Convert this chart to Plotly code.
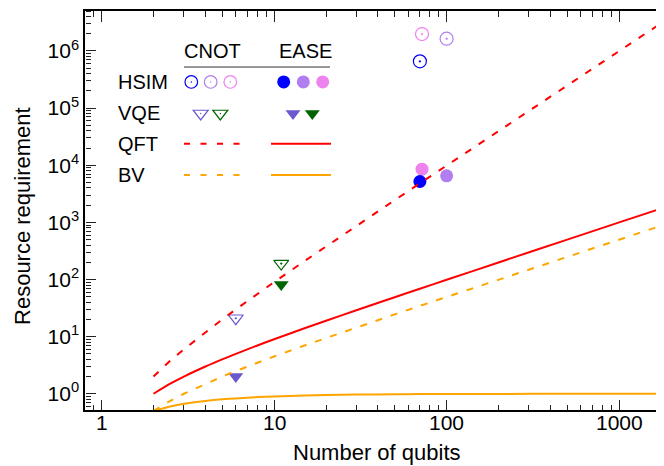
import math
import plotly.graph_objects as go

# ---------------- data ----------------
n_line = [2, 2.5, 3, 4, 5, 6, 8, 10, 15, 20, 30, 50, 70, 100, 200, 500, 1000, 2000]
qft_cnot = [2, 3.8, 6, 12, 20, 30, 56, 90, 210, 380, 870, 2450, 4830, 9900, 39800, 250000, 1000000, 4000000]
qft_ease = [1, 1.5, 2, 3, 4, 5, 7, 9, 14, 19, 29, 49, 69, 99, 199, 499, 999, 1999]
bv_cnot = [0.5, 0.75, 1, 1.5, 2, 2.5, 3.5, 4.5, 7, 9.5, 14.5, 24.5, 34.5, 49.5, 99.5, 250, 500, 1000]
bv_ease = [0.5, 0.6, 0.67, 0.75, 0.8, 0.83, 0.875, 0.9, 0.93, 0.95, 0.97, 0.98, 0.986, 0.99, 0.995, 0.998, 0.999, 1.0]

hsim_n = [72, 100, 70]
hsim_cnot = [1980000, 1640000, 660000]
hsim_ease = [8550, 6540, 5200]
hsim_colors = ["#EE82EE", "#B07EEE", "#0000FF"]

vqe_n = [6, 11]
vqe_cnot = [21, 190]
vqe_ease = [2, 82]
vqe_colors = ["#6A5ACD", "#006400"]

x_tickvals = [1, 10, 100, 1000]
x_ticktext = ["1", "10", "100", "1000"]
y_tickvals = [1, 10, 100, 1000, 10000, 100000, 1000000]
y_ticktext = ["10<sup>%d</sup>" % i for i in range(7)]
x_minor = [m * 10 ** e for e in range(-1, 4) for m in range(2, 10)]
y_minor = [m * 10 ** e for e in range(-1, 7) for m in range(2, 10)]

RED = "#FF0000"
ORANGE = "#FFA500"
FONT = "Liberation Sans, Arial, Helvetica, sans-serif"
DASH = "7px,9px"
X_RANGE = [-0.096, 3.289]
Y_RANGE = [-0.284, 6.70]

# plot-area geometry (pixels)
L, R, T, B = 77, 3, 1, 64
W, H = 664, 466
PW, PH = W - L - R, H - T - B


def fx(px):
    return (px - L) / PW


def fy(py):
    return 1 - (py - T) / PH


fig = go.Figure()

# markers
for i in range(len(hsim_n)):
    fig.add_trace(go.Scatter(x=[hsim_n[i]], y=[hsim_cnot[i]], mode="markers",
                             marker=dict(symbol="circle-open-dot", size=13, color=hsim_colors[i],
                                         line=dict(width=1.2, color=hsim_colors[i]))))
    fig.add_trace(go.Scatter(x=[hsim_n[i]], y=[hsim_ease[i]], mode="markers",
                             marker=dict(symbol="circle", size=13, color=hsim_colors[i], line=dict(width=0))))
for i in range(len(vqe_n)):
    fig.add_trace(go.Scatter(x=[vqe_n[i]], y=[vqe_cnot[i]], mode="markers",
                             marker=dict(symbol="triangle-down-open-dot", size=13, color=vqe_colors[i],
                                         line=dict(width=1.2, color=vqe_colors[i]))))
    fig.add_trace(go.Scatter(x=[vqe_n[i]], y=[vqe_ease[i]], mode="markers",
                             marker=dict(symbol="triangle-down", size=13, color=vqe_colors[i], line=dict(width=0))))

# lines
fig.add_trace(go.Scatter(x=n_line, y=bv_ease, mode="lines", line=dict(color=ORANGE, width=2, shape="spline", smoothing=0.6)))
fig.add_trace(go.Scatter(x=n_line, y=bv_cnot, mode="lines", line=dict(color=ORANGE, width=2, dash=DASH)))
fig.add_trace(go.Scatter(x=n_line, y=qft_ease, mode="lines", line=dict(color=RED, width=2, shape="spline", smoothing=0.6)))
fig.add_trace(go.Scatter(x=n_line, y=qft_cnot, mode="lines", line=dict(color=RED, width=2, dash=DASH)))

# ---------------- legend table (text + shapes) ----------------
annotations = []
for txt, px, py, xa in [("CNOT", 204.5, 41, "center"), ("EASE", 297, 41, "center"),
                        ("HSIM", 108, 72.3, "left"), ("VQE", 108, 103.3, "left"),
                        ("QFT", 108, 135, "left"), ("BV", 108, 165.7, "left")]:
    annotations.append(dict(x=fx(px), y=fy(py), text=txt, xref="paper", yref="paper", showarrow=False,
                            xanchor=xa, yanchor="middle", font=dict(family=FONT, size=20, color="#000")))

# x tick labels (placed at the axis tick values) and axis titles
for tv, tt in zip(x_tickvals, x_ticktext):
    annotations.append(dict(x=math.log10(tv), xref="x", y=fy(415), yref="paper", text=tt, showarrow=False,
                            xanchor="center", yanchor="middle", font=dict(family=FONT, size=21, color="#000")))
annotations.append(dict(x=fx(369), y=fy(445), xref="paper", yref="paper", text="Number of qubits",
                        showarrow=False, xanchor="center", yanchor="middle",
                        font=dict(family=FONT, size=22, color="#000")))
annotations.append(dict(x=fx(15), y=fy(207), xref="paper", yref="paper", text="Resource requirement",
                        showarrow=False, xanchor="center", yanchor="middle", textangle=-90,
                        font=dict(family=FONT, size=22, color="#000")))

shapes = [dict(type="line", xref="paper", yref="paper", x0=fx(176), x1=fx(322), y0=fy(57.3), y1=fy(57.3),
               line=dict(color="#333333", width=1))]
for py, col in [(134.5, RED), (165.7, ORANGE)]:
    shapes.append(dict(type="line", xref="paper", yref="paper", x0=fx(176), x1=fx(233.5), y0=fy(py), y1=fy(py),
                       line=dict(color=col, width=2, dash="6px,10.5px")))
    shapes.append(dict(type="line", xref="paper", yref="paper", x0=fx(263), x1=fx(323), y0=fy(py), y1=fy(py),
                       line=dict(color=col, width=2)))


def pix_shape(px, py, **kw):
    d = dict(xref="paper", yref="paper", xsizemode="pixel", ysizemode="pixel",
             xanchor=fx(px), yanchor=fy(py), layer="above")
    d.update(kw)
    return d


leg_hsim_cnot_x = [222.3, 202.7, 183.3]
leg_hsim_ease_x = [314.7, 295.3, 275.7]
for i in range(3):
    c = hsim_colors[i]
    shapes.append(pix_shape(leg_hsim_cnot_x[i], 72.3, type="circle", x0=-6.3, x1=6.3, y0=-6.3, y1=6.3,
                            line=dict(color=c, width=1.2), fillcolor="rgba(0,0,0,0)"))
    shapes.append(pix_shape(leg_hsim_cnot_x[i], 72.3, type="circle", x0=-0.7, x1=0.7, y0=-0.7, y1=0.7,
                            line=dict(width=0), fillcolor=c))
    shapes.append(pix_shape(leg_hsim_ease_x[i], 72.3, type="circle", x0=-6.5, x1=6.5, y0=-6.5, y1=6.5,
                            line=dict(width=0), fillcolor=c))

TRI = "M-7.5,3.25 L7.5,3.25 L0,-6.5 Z"
leg_vqe_cnot_x = [192.7, 212.3]
leg_vqe_ease_x = [285, 304.3]
for i in range(2):
    c = vqe_colors[i]
    shapes.append(pix_shape(leg_vqe_cnot_x[i], 104, type="path", path=TRI,
                            line=dict(color=c, width=1.2), fillcolor="rgba(0,0,0,0)"))
    shapes.append(pix_shape(leg_vqe_cnot_x[i], 104, type="circle", x0=-0.7, x1=0.7, y0=-0.7, y1=0.7,
                            line=dict(width=0), fillcolor=c))
    shapes.append(pix_shape(leg_vqe_ease_x[i], 104, type="path", path=TRI,
                            line=dict(width=0), fillcolor=c))

# tick marks drawn by extra overlaid axes (ticks pointing into the plot from each side)
tick_common = dict(showgrid=False, zeroline=False, showticklabels=False, tickcolor="#222", fixedrange=True)
minor_x = dict(ticklen=5, tickwidth=1, tickcolor="#222", tickmode="array", tickvals=x_minor)
minor_y = dict(ticklen=5, tickwidth=1, tickcolor="#222", tickmode="array", tickvals=y_minor)

fig.update_layout(
    width=W, height=H,
    margin=dict(l=L, r=R, t=T, b=B),
    plot_bgcolor="white", paper_bgcolor="white",
    showlegend=False,
    font=dict(family=FONT, color="#000"),
    xaxis=dict(type="log", range=X_RANGE, tickmode="array", tickvals=x_tickvals, ticktext=x_ticktext,
               showticklabels=False,
               showline=True, linecolor="#000", linewidth=1.5, mirror=True, ticks="", showgrid=False,
               zeroline=False),
    yaxis=dict(type="log", range=Y_RANGE, tickmode="array", tickvals=y_tickvals, ticktext=y_ticktext,
               showline=True, linecolor="#000", linewidth=1.5, mirror=True, ticks="", showgrid=False,
               zeroline=False, tickfont=dict(family=FONT, size=21, color="#000")),
    # axis on top whose mirrored ticks fall on the bottom edge (pointing up)
    xaxis2=dict(type="log", range=X_RANGE, overlaying="x", anchor="y", side="top", showline=True,
                linecolor="#000", linewidth=1.5, mirror="allticks", ticks="inside",
                tickmode="array", tickvals=x_tickvals, ticklen=10, tickwidth=1.2,
                minor=dict(ticks="inside", **minor_x), **tick_common),
    # top edge ticks (pointing down)
    xaxis3=dict(type="log", range=X_RANGE, overlaying="x", anchor="free", position=1, side="bottom",
                showline=False, ticks="outside", tickmode="array", tickvals=x_tickvals, ticklen=10, tickwidth=1.2,
                minor=dict(ticks="outside", **minor_x), **tick_common),
    # left edge ticks (pointing right)
    yaxis2=dict(type="log", range=Y_RANGE, overlaying="y", anchor="free", position=0, side="right",
                showline=False, ticks="outside", tickmode="array", tickvals=y_tickvals, ticklen=10, tickwidth=1.2,
                minor=dict(ticks="outside", **minor_y), **tick_common),
    # right edge ticks (pointing left)
    yaxis3=dict(type="log", range=Y_RANGE, overlaying="y", anchor="free", position=1, side="left",
                showline=False, ticks="outside", tickmode="array", tickvals=y_tickvals, ticklen=10, tickwidth=1.2,
                minor=dict(ticks="outside", **minor_y), **tick_common),
    annotations=annotations,
    shapes=shapes,
)

# invisible helper traces so the overlaid tick axes are drawn
for xa, ya in [("x2", "y"), ("x3", "y"), ("x", "y2"), ("x", "y3")]:
    fig.add_trace(go.Scatter(x=[n_line[0]], y=[bv_ease[-1]], xaxis=xa, yaxis=ya, mode="markers",
                             marker=dict(opacity=0), hoverinfo="skip"))

fig.write_html("out.html")
